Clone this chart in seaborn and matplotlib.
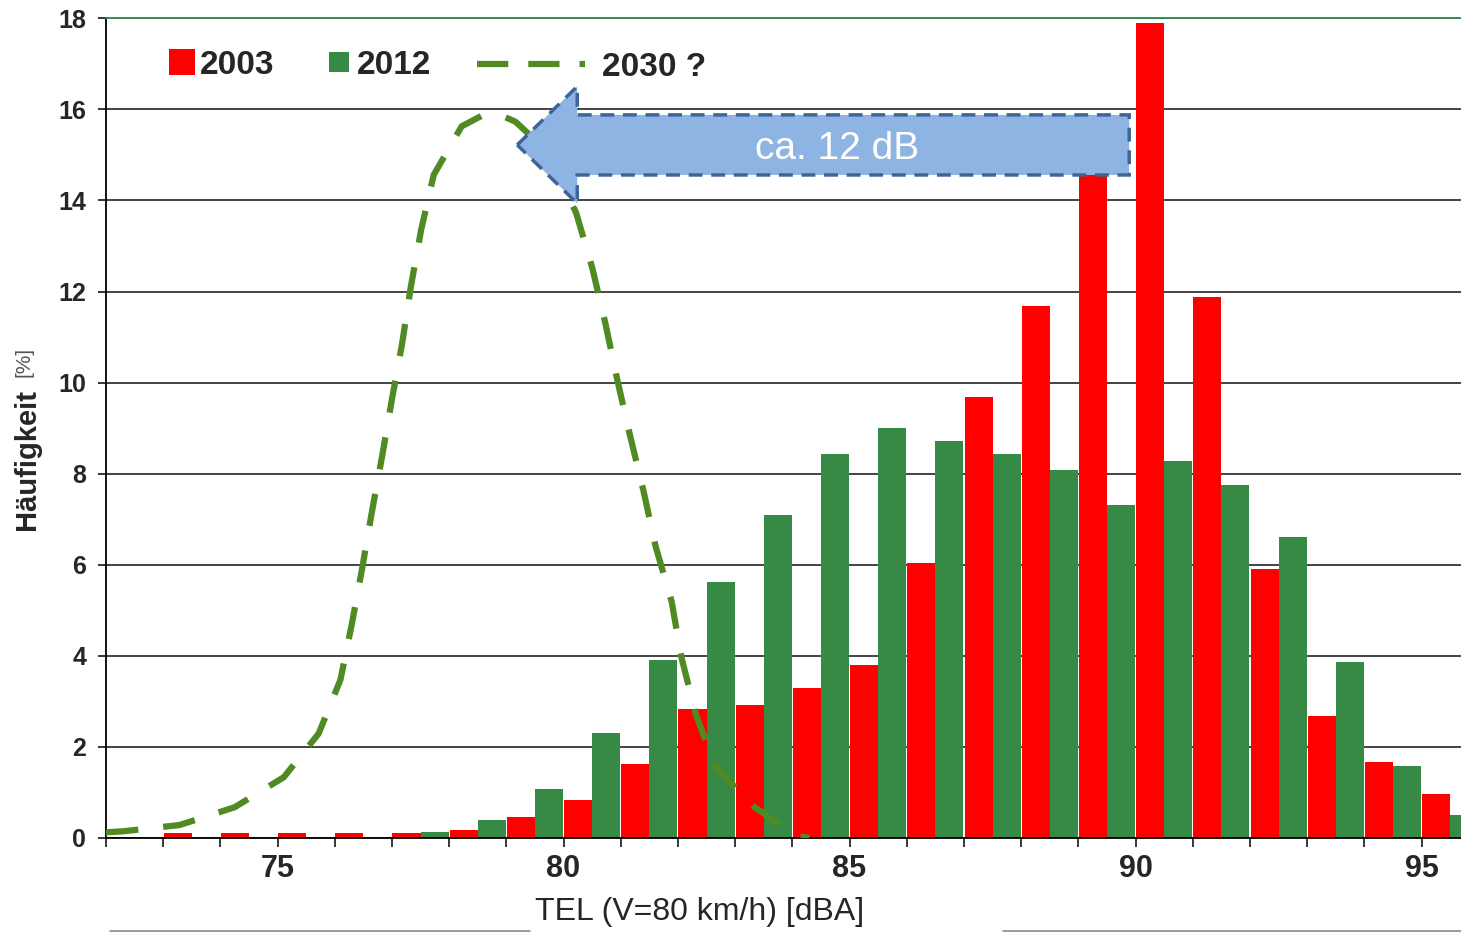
import matplotlib
matplotlib.use('Agg')
import matplotlib.pyplot as plt
import pandas as pd
import seaborn as sns
from matplotlib.lines import Line2D
from matplotlib.patches import FancyArrow

# 1 dB classes, left edge of each class
BIN_START = list(range(72, 96))
FREQ_2003 = [0.0, 0.11, 0.11, 0.11, 0.11, 0.11, 0.17, 0.45, 0.83, 1.62, 2.82, 2.91,
             3.28, 3.80, 6.03, 9.68, 11.68, 14.9, 17.9, 11.88, 5.90, 2.67, 1.66, 0.95]
FREQ_2012 = [0.0, 0.0, 0.0, 0.0, 0.0, 0.12, 0.40, 1.06, 2.29, 3.90, 5.62, 7.09,
             8.43, 9.0, 8.72, 8.43, 8.07, 7.31, 8.27, 7.74, 6.61, 3.85, 1.58, 0.5]

# expected distribution 2030 (dashed curve)
TEL_2030 = [72.0, 72.29, 73.29, 74.25, 75.11, 75.72, 76.10, 76.30, 76.48, 76.65, 76.83,
            77.0, 77.18, 77.33, 77.51, 77.73, 78.22, 78.6, 78.98, 79.16, 79.7, 80.22,
            80.50, 80.73, 80.94, 81.16, 81.40, 81.61, 81.89, 82.06, 82.31, 82.66, 83.34,
            84.09, 84.3]
FREQ_2030 = [0.12, 0.14, 0.28, 0.67, 1.33, 2.29, 3.47, 4.70, 5.92, 7.16, 8.39,
             9.63, 10.87, 12.10, 13.35, 14.56, 15.63, 15.88, 15.83, 15.73, 15.1, 13.73,
             12.53, 11.31, 10.06, 8.85, 7.61, 6.40, 5.19, 3.97, 2.72, 1.55, 0.67,
             0.03, 0.0]

YEARS = ['2003', '2012']
LABEL_2030 = '2030 ?'
SHIFT_TEXT = 'ca. 12 dB'

# arrow "ca. 12 dB": from the 2003 peak back to the 2030 peak
ARROW_TAIL_X = 89.89
ARROW_TIP_X = 79.19
ARROW_Y = 15.22

RED = '#ff0000'
GREEN = '#378a45'
OLIVE = '#4f8a23'

W, H = 1461, 933


def build_frame():
    rows = []
    for year, values in zip(YEARS, [FREQ_2003, FREQ_2012]):
        for start, value in zip(BIN_START, values):
            rows.append({'tel': start + 0.5, 'year': year, 'freq': value})
    return pd.DataFrame(rows)


def plot(df):
    sns.set_theme(style='white')
    plt.rcParams['font.family'] = ['Liberation Sans', 'DejaVu Sans']

    fig = plt.figure(figsize=(W / 100, H / 100), dpi=100)
    ax = fig.add_axes([0.0725, 0.1021, 0.9275, 0.8782])

    sns.histplot(data=df, x='tel', weights='freq', hue='year', hue_order=YEARS,
                 binwidth=1, binrange=(BIN_START[0], BIN_START[-1] + 1),
                 multiple='dodge', shrink=0.98,
                 palette={'2003': RED, '2012': GREEN}, alpha=1, edgecolor='none',
                 linewidth=0, legend=False, ax=ax, zorder=2)

    sns.lineplot(x=TEL_2030, y=FREQ_2030, ax=ax, color=OLIVE, lw=4.5,
                 linestyle=(0, (5.2, 4.0)), zorder=3)

    ax.add_patch(FancyArrow(ARROW_TAIL_X, ARROW_Y, ARROW_TIP_X - ARROW_TAIL_X, 0,
                            width=1.32, head_width=2.57, head_length=1.05,
                            length_includes_head=True, fc='#8eb4e3', ec='#3d6595',
                            lw=2.5, ls=(0, (4, 2.5)), zorder=4))
    ax.text((ARROW_TAIL_X + ARROW_TIP_X) / 2 + 0.25, ARROW_Y - 0.1, SHIFT_TEXT,
            color='white', size=28, ha='center', va='center', zorder=5)

    ax.set_xlim(72, 95.69)
    ax.set_ylim(0, 18)
    ax.set_xticks([75, 80, 85, 90, 95])
    ax.set_xticks(range(72, 96), minor=True)
    ax.set_yticks(range(0, 19, 2))
    ax.tick_params(axis='x', which='both', direction='out', length=6.5, width=1.1,
                   color='black', bottom=True, labelsize=22, pad=5.5)
    ax.tick_params(axis='y', direction='out', length=5.8, width=1.1, color='black',
                   left=True, labelsize=18, pad=8.5)
    for lab in ax.get_xticklabels() + ax.get_yticklabels():
        lab.set_fontweight('bold')

    ax.set_axisbelow(True)
    ax.yaxis.grid(True, color='#111111', lw=1.1)
    ax.xaxis.grid(False)
    for side in ['left', 'bottom']:
        ax.spines[side].set_color('black')
        ax.spines[side].set_linewidth(1.3)
    ax.spines['top'].set_color('#2e8b4e')
    ax.spines['top'].set_linewidth(1.3)
    ax.spines['right'].set_visible(False)

    ax.set_ylabel('')
    ax.set_xlabel('TEL (V=80 km/h) [dBA]', fontsize=23)
    ax.xaxis.set_label_coords(0.438, -0.072)
    ax.xaxis.label.set_va('top')
    fig.text(35 / W, 1 - 530 / H, 'Häufigkeit', rotation=90, rotation_mode='anchor',
             weight='bold', size=21, ha='left', va='baseline')
    fig.text(24 / W, 1 - 362 / H, '[%]', rotation=90, size=15, ha='center',
             va='center', color='#555555')

    bar_handles = [Line2D([], [], ls='none', marker='s', ms=19, mfc=RED, mew=0),
                   Line2D([], [], ls='none', marker='s', ms=14.5, mfc=GREEN, mew=0)]
    leg = ax.legend(bar_handles, YEARS, ncol=2, loc='center left',
                    bbox_to_anchor=(0.0463, 0.9425), frameon=False,
                    prop={'weight': 'bold', 'size': 24}, handlelength=0.8,
                    handletextpad=0.15, columnspacing=1.52, borderpad=0,
                    borderaxespad=0)
    ax.add_artist(leg)
    line_handle = [Line2D([], [], color=OLIVE, lw=4.5, ls=(0, (5, 3.2)))]
    ax.legend(line_handle, [LABEL_2030], loc='center left',
              bbox_to_anchor=(0.2739, 0.9405), frameon=False,
              prop={'weight': 'bold', 'size': 24}, handlelength=3.24,
              handletextpad=0.5, borderpad=0, borderaxespad=0)

    # thin frame pieces under the axis title
    fig.add_artist(Line2D([110 / W, 530 / W], [1 - 931 / H] * 2,
                          color='#7f7f7f', lw=1.1))
    fig.add_artist(Line2D([1003 / W, 1.0], [1 - 931 / H] * 2,
                          color='#7f7f7f', lw=1.1))

    fig.savefig('out.png', dpi=100)


if __name__ == '__main__':
    plot(build_frame())
